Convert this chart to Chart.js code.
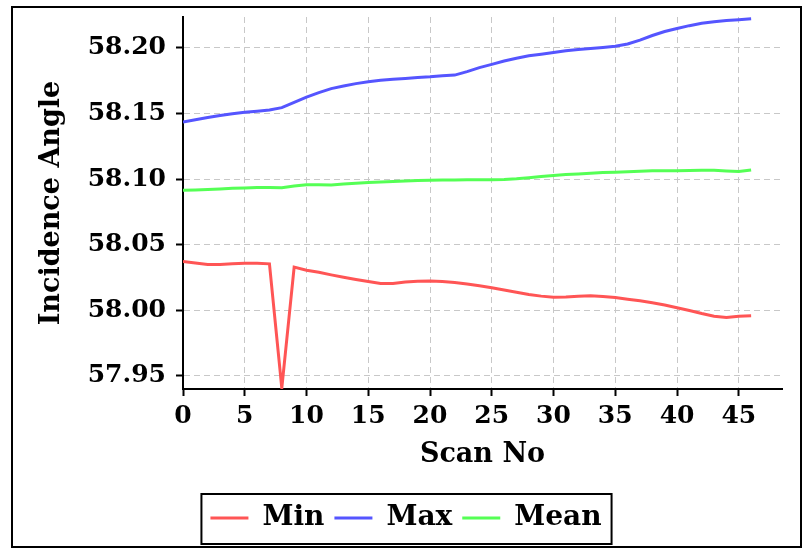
<!DOCTYPE html>
<html lang="en">
<head>
    <meta charset="UTF-8">
    <title>Incidence Angle per Scan</title>
    <script src="https://cdn.jsdelivr.net/npm/chart.js"></script>
    <style>
        body { margin: 0; background: #fff; }
    </style>
</head>
<body>
    <canvas id="angleChart" width="812" height="550"></canvas>
    <script>
// scan numbers 0..46
const scanNo = [0, 1, 2, 3, 4, 5, 6, 7, 8, 9, 10, 11, 12, 13, 14, 15, 16, 17, 18, 19,
    20, 21, 22, 23, 24, 25, 26, 27, 28, 29, 30, 31, 32, 33, 34, 35, 36, 37, 38, 39,
    40, 41, 42, 43, 44, 45, 46];

const minAngle = [58.0372, 58.0360, 58.0350, 58.0350, 58.0354, 58.0358, 58.0358, 58.0354, 57.9407, 58.0329,
    58.0305, 58.0290, 58.0270, 58.0252, 58.0235, 58.0219, 58.0205, 58.0205, 58.0215, 58.0222,
    58.0224, 58.0220, 58.0212, 58.0200, 58.0187, 58.0172, 58.0155, 58.0138, 58.0120, 58.0108,
    58.0100, 58.0102, 58.0107, 58.0110, 58.0105, 58.0097, 58.0085, 58.0072, 58.0058, 58.0040,
    58.0020, 57.9998, 57.9975, 57.9955, 57.9945, 57.9955, 57.9958];

const maxAngle = [58.1436, 58.1453, 58.1470, 58.1485, 58.1498, 58.1510, 58.1518, 58.1527, 58.1545, 58.1585,
    58.1625, 58.1660, 58.1690, 58.1710, 58.1728, 58.1742, 58.1753, 58.1762, 58.1768, 58.1775,
    58.1780, 58.1788, 58.1793, 58.1820, 58.1850, 58.1875, 58.1900, 58.1922, 58.1940, 58.1952,
    58.1966, 58.1978, 58.1988, 58.1995, 58.2003, 58.2013, 58.2030, 58.2060, 58.2095, 58.2125,
    58.2148, 58.2170, 58.2188, 58.2200, 58.2210, 58.2215, 58.2222];

const meanAngle = [58.0916, 58.0917, 58.0920, 58.0925, 58.0930, 58.0933, 58.0936, 58.0937, 58.0934, 58.0948,
    58.0958, 58.0958, 58.0956, 58.0962, 58.0968, 58.0974, 58.0978, 58.0982, 58.0986, 58.0990,
    58.0992, 58.0993, 58.0994, 58.0995, 58.0996, 58.0996, 58.0997, 58.1002, 58.1010, 58.1020,
    58.1028, 58.1035, 58.1040, 58.1045, 58.1050, 58.1053, 58.1056, 58.1060, 58.1063, 58.1063,
    58.1063, 58.1065, 58.1067, 58.1068, 58.1062, 58.1058, 58.1070];

const xTicks = [0, 5, 10, 15, 20, 25, 30, 35, 40, 45];
const yTicks = [57.95, 58.00, 58.05, 58.10, 58.15, 58.20];

const FONT = "'DejaVu Serif', 'Liberation Serif', serif";

function toPoints(values) {
    return values.map((v, i) => ({ x: scanNo[i], y: v }));
}

// outer frame + box round the legend
const framePlugin = {
    id: 'frame',
    afterDraw(chart) {
        const ctx = chart.ctx;
        ctx.save();
        ctx.strokeStyle = '#000';
        ctx.lineWidth = 2;
        ctx.strokeRect(12, 7, 789, 540);

        const boxes = chart.legend.legendHitBoxes;
        if (boxes && boxes.length) {
            const first = boxes[0];
            const last = boxes[boxes.length - 1];
            const cy = first.top + first.height / 2;
            ctx.strokeRect(first.left - 9, cy - 24, last.left + last.width - first.left + 19, 50);
        }
        ctx.restore();
    }
};

const ctx = document.getElementById('angleChart').getContext('2d');
const chart = new Chart(ctx, {
    type: 'line',
    data: {
        datasets: [{
            label: 'Min',
            data: toPoints(minAngle),
            borderColor: '#ff5555',
            backgroundColor: '#ff5555',
            borderWidth: 3,
            pointRadius: 0,
            tension: 0
        }, {
            label: 'Max',
            data: toPoints(maxAngle),
            borderColor: '#5555ff',
            backgroundColor: '#5555ff',
            borderWidth: 3,
            pointRadius: 0,
            tension: 0
        }, {
            label: 'Mean',
            data: toPoints(meanAngle),
            borderColor: '#55ff55',
            backgroundColor: '#55ff55',
            borderWidth: 3,
            pointRadius: 0,
            tension: 0
        }]
    },
    options: {
        responsive: false,
        animation: false,
        layout: {
            padding: { top: 17, right: 30, left: 30, bottom: 8 }
        },
        plugins: {
            tooltip: { enabled: false },
            legend: {
                position: 'bottom',
                labels: {
                    color: '#000',
                    font: { family: FONT, size: 28, weight: 'bold' },
                    usePointStyle: true,
                    pointStyle: 'line',
                    pointStyleWidth: 38,
                    boxWidth: 38,
                    boxHeight: 28,
                    padding: 10
                }
            }
        },
        scales: {
            x: {
                type: 'linear',
                min: 0,
                max: 48.5,
                afterFit(scale) { scale.height = 105; },
                afterBuildTicks(scale) { scale.ticks = xTicks.map(v => ({ value: v })); },
                ticks: {
                    color: '#000',
                    font: { family: FONT, size: 25, weight: 'bold' },
                    padding: 5,
                    maxRotation: 0
                },
                grid: {
                    color: '#c8c8c8',
                    lineWidth: 1,
                    tickColor: '#000',
                    tickLength: 7,
                    tickWidth: 2,
                    tickBorderDash: []
                },
                border: { color: '#000', width: 2, dash: [6, 4] },
                title: {
                    display: true,
                    text: 'Scan No',
                    color: '#000',
                    font: { family: FONT, size: 27, weight: 'bold' },
                    padding: { top: 0, bottom: 23 }
                }
            },
            y: {
                type: 'linear',
                min: 57.940,
                max: 58.2236,
                afterFit(scale) {
                    scale.width = 153;
                    scale.paddingTop = 0;
                    scale.paddingBottom = 0;
                },
                afterBuildTicks(scale) { scale.ticks = yTicks.map(v => ({ value: v })); },
                ticks: {
                    color: '#000',
                    font: { family: FONT, size: 25, weight: 'bold' },
                    padding: 10,
                    callback: v => v.toFixed(2)
                },
                grid: {
                    color: '#c8c8c8',
                    lineWidth: 1,
                    tickColor: '#000',
                    tickLength: 7,
                    tickWidth: 2,
                    tickBorderDash: []
                },
                border: { color: '#000', width: 2, dash: [6, 4] },
                title: {
                    display: true,
                    text: 'Incidence Angle',
                    color: '#000',
                    font: { family: FONT, size: 27, weight: 'bold' },
                    padding: { top: 6, bottom: 0 }
                }
            }
        }
    },
    plugins: [framePlugin]
});
    </script>
</body>
</html>
